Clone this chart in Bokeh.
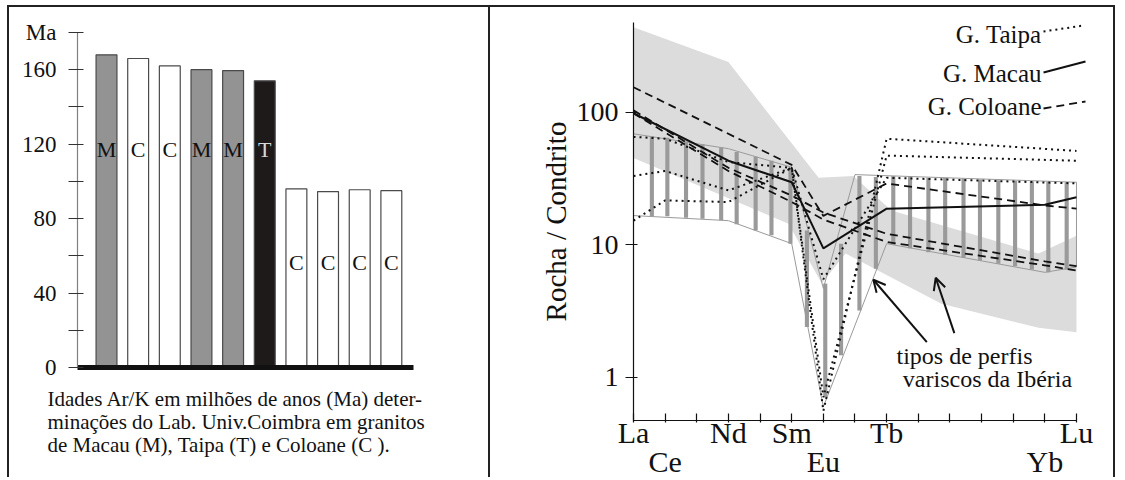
from bokeh.plotting import figure
from bokeh.layouts import row
from bokeh.models import (FixedTicker, Label, Arrow, OpenHead, Range1d, ColumnDataSource,
                          LinearAxis, LogAxis)
from bokeh.core.properties import value
from bokeh.embed import file_html
from bokeh.resources import INLINE

SERIF = "Liberation Serif"

# ---------------- Left panel data: Ar/K ages ----------------
bar_pos = [1, 2, 3, 4, 5, 6, 7, 8, 9, 10]
bar_ages = [168, 166, 162, 160, 159.5, 154, 96, 94.5, 95.5, 95]
bar_groups = ["M", "C", "C", "M", "M", "T", "C", "C", "C", "C"]
bar_label_age = [117, 117, 117, 117, 117, 117, 56.5, 56.5, 56.5, 56.5]
group_fill = {"M": "#939393", "C": "#ffffff", "T": "#1e1a1a"}
group_text = {"M": "#111111", "C": "#111111", "T": "#d8d8d8"}
age_ticks = [0, 20, 40, 60, 80, 100, 120, 140, 160, 180]
age_labels = {0: "0", 40: "40", 80: "80", 120: "120", 160: "160", 180: "Ma"}
caption_lines = ["Idades Ar/K em milhões de anos (Ma) deter-",
                 "minações do Lab. Univ.Coimbra em granitos",
                 "de Macau (M), Taipa (T) e Coloane (C )."]

# ---------------- Right panel data: REE / chondrite ----------------
ree = ["La", "Ce", "Pr", "Nd", "Pm", "Sm", "Eu", "Gd", "Tb", "Dy", "Ho", "Er", "Tm", "Yb", "Lu"]
ree_row1 = {0: "La", 3: "Nd", 5: "Sm", 8: "Tb", 14: "Lu"}
ree_row2 = {1: "Ce", 6: "Eu", 13: "Yb"}

macau_x = [0, 3, 5, 6, 8, 13, 14]
macau_y = [98, 43, 29.6, 9.4, 18.7, 20, 22.8]

coloane_x = [[0, 5, 6, 8, 13, 14],
             [0, 3, 5, 6, 8, 13, 14],
             [0, 3, 5, 6, 8, 13, 14]]
coloane_y = [[154, 40, 16.5, 29, 19.8, 18.7],
             [103, 38, 23.5, 17.5, 12.1, 7.5, 6.9],
             [98, 36, 21, 15.5, 10.5, 7.0, 6.4]]

taipa_x = [[0, 1, 3, 5, 6, 8, 14],
           [0, 1, 3, 5, 6, 8, 14],
           [0, 1, 3, 5, 6, 8, 14]]
taipa_y = [[65, 63, 42, 38, 0.56, 63, 51],
           [33, 36, 25.7, 38, 0.71, 47, 43],
           [15.2, 21.6, 21, 38, 5.5, 32, 29]]

# light grey field
band_x = [0, 3, 5.85, 6.95, 8.15, 12.8, 14, 14, 12.8, 9.73, 6.7, 5.95, 4.9, 0]
band_y = [436, 238, 32, 33, 18.1, 8.6, 11.7, 2.19, 2.37, 3.59, 8.6, 5.1, 14.4, 45]

# hatched field (Iberian variscan profile types)
field_x = [0, 3, 5, 6, 7, 14, 14, 13, 8, 6, 5, 3, 0]
field_y = [68.6, 53, 38.4, 4.7, 33.8, 29.6, 6.8, 6.2, 10.2, 0.6, 10.2, 15.2, 16.6]
hatch_x = [0.58, 1.07, 1.66, 2.18, 2.77, 3.26, 3.86, 4.36, 4.96,
           5.48, 6.06, 6.56, 7.14, 7.66,
           8.21, 8.74, 9.32, 9.85, 10.43, 10.95, 11.53, 12.06, 12.59, 13.11, 13.69]
hatch_top = [66, 64, 60, 57, 54, 50, 46, 43, 38,
             12.8, 5.1, 10.2, 33, 32.4,
             33, 32.6, 32, 31.8, 31.4, 31, 30.6, 30.4, 30, 29.8, 29.6]
hatch_bot = [16.5, 16.4, 16, 15.7, 15.3, 14.3, 12.8, 11.8, 10.2,
             2.4, 0.71, 1.47, 3.2, 6.6,
             10.0, 9.4, 8.8, 8.4, 8.0, 7.6, 7.2, 6.9, 6.5, 6.2, 6.5]

arrows = [dict(x0=9.27, y0=1.845, x1=7.58, y1=5.45),
          dict(x0=10.14, y0=2.16, x1=9.55, y1=5.64)]
note_lines = ["tipos de perfis", "variscos da Ibéria"]
legend_names = ["G. Taipa", "G. Macau", "G. Coloane"]


def bare(p):
    p.title.visible = False
    p.outline_line_color = None
    p.grid.visible = False
    p.background_fill_color = "white"
    p.border_fill_color = "white"


# ======================= LEFT FIGURE =======================
left = figure(width=481, height=470, x_range=Range1d(-2.065, 13.133), y_range=Range1d(-59.1, 193.4),
              output_backend="svg", toolbar_location=None, x_axis_location=None, y_axis_location=None,
              min_border=0)
bare(left)

src = ColumnDataSource(dict(
    x=bar_pos, top=bar_ages, g=bar_groups, ly=bar_label_age,
    fill=[group_fill[g] for g in bar_groups],
    tc=[group_text[g] for g in bar_groups]))
left.vbar(x="x", top="top", bottom=0, width=0.66, fill_color="fill",
          line_color="#4a4a4a", line_width=1.2, source=src)
left.text(x="x", y="ly", text="g", text_color="tc", text_font=value(SERIF),
          text_font_size="22px", text_align="center", text_baseline="middle", source=src)

ya = LinearAxis(fixed_location=0.084, bounds=(0, 180))
ya.ticker = FixedTicker(ticks=age_ticks)
ya.major_label_overrides = {t: age_labels.get(t, "") for t in age_ticks}
ya.axis_line_color = "#808080"
ya.axis_line_width = 1.2
ya.major_tick_line_color = "#333333"
ya.major_tick_line_width = 1.2
ya.major_tick_out = 9
ya.major_tick_in = 6
ya.minor_tick_line_color = None
ya.major_label_standoff = 12
ya.major_label_text_font = SERIF
ya.major_label_text_font_size = "23px"
ya.major_label_text_color = "#111111"
left.add_layout(ya, "left")

xa = LinearAxis(fixed_location=0, bounds=(0.084, 10.70))
xa.ticker = FixedTicker(ticks=[])
xa.axis_line_width = 5
xa.axis_line_color = "#111111"
xa.major_tick_line_color = None
xa.minor_tick_line_color = None
xa.major_label_text_font_size = "0px"
left.add_layout(xa, "below")

for k, line in enumerate(caption_lines):
    left.add_layout(Label(x=38, y=79 - 23 * k, x_units="screen", y_units="screen",
                          text=line, text_font=SERIF, text_font_size="21px",
                          text_color="#111111", text_baseline="alphabetic"))

# ======================= RIGHT FIGURE =======================
right = figure(width=623, height=470, x_range=Range1d(-4.52, 15.17), y_range=Range1d(0.1763, 614),
               y_axis_type="log", output_backend="svg", toolbar_location=None,
               x_axis_location=None, y_axis_location=None, min_border=0)
bare(right)

right.patch(band_x, band_y, fill_color="#dcdcdc", line_color=None)
right.vbar(x=hatch_x, top=hatch_top, bottom=hatch_bot, width=0.13,
           fill_color="#9a9a9a", line_color=None)
right.patch(field_x, field_y, fill_color=None, line_color="#9a9a9a", line_width=1)

right.multi_line(taipa_x, taipa_y, line_color="#111111", line_width=2, line_dash="2 4")
right.multi_line(coloane_x, coloane_y, line_color="#111111", line_width=1.8, line_dash="8 5")
right.line(macau_x, macau_y, line_color="#111111", line_width=2)

for a in arrows:
    right.add_layout(Arrow(end=OpenHead(size=12, line_width=2, line_color="#111111"),
                           x_start=a["x0"], y_start=a["y0"], x_end=a["x1"], y_end=a["y1"],
                           line_width=2, line_color="#111111"))

for k, line in enumerate(note_lines):
    right.add_layout(Label(x=[474, 497][k], y=[122, 99][k], x_units="screen", y_units="screen",
                           text=line, text_font=SERIF, text_font_size="24px",
                           text_color="#111111", text_align="center", text_baseline="alphabetic"))

# legend (text on the left, line sample on the right)
leg_y = [443, 404, 371]
leg_dash = ["2 4", "solid", "8 5"]
leg_seg = [(553, 446, 593, 452), (553, 405, 595, 416), (553, 369, 595, 376)]
for k, name in enumerate(legend_names):
    right.add_layout(Label(x=551, y=leg_y[k], x_units="screen", y_units="screen",
                           text=name, text_font=SERIF, text_font_size="25px",
                           text_color="#111111", text_align="right", text_baseline="alphabetic"))
    x0, y0, x1, y1 = leg_seg[k]
    right.add_layout(Arrow(end=None, x_start=x0, y_start=y0, x_end=x1, y_end=y1,
                           start_units="screen", end_units="screen",
                           line_width=2 if k != 2 else 1.8, line_color="#111111",
                           line_dash=leg_dash[k]))

rx = LinearAxis(fixed_location=0.474, bounds=(0, 14))
rx.ticker = FixedTicker(ticks=list(range(len(ree))))
rx.major_label_overrides = {i: ree_row1.get(i, "") for i in range(len(ree))}
rx.axis_line_color = "#111111"
rx.axis_line_width = 1.2
rx.major_tick_line_color = "#111111"
rx.major_tick_line_width = 1.2
rx.major_tick_in = 7
rx.major_tick_out = 2
rx.minor_tick_line_color = None
rx.major_label_standoff = -7
rx.major_label_text_font = SERIF
rx.major_label_text_font_size = "30px"
rx.major_label_text_color = "#111111"
right.add_layout(rx, "below")

rx2 = LinearAxis(fixed_location=0.474, bounds=(0, 14))
rx2.ticker = FixedTicker(ticks=list(ree_row2.keys()))
rx2.major_label_overrides = dict(ree_row2)
rx2.axis_line_color = None
rx2.major_tick_line_color = None
rx2.major_tick_in = 0
rx2.major_tick_out = 0
rx2.minor_tick_line_color = None
rx2.major_label_standoff = 24
rx2.major_label_text_font = SERIF
rx2.major_label_text_font_size = "30px"
rx2.major_label_text_color = "#111111"
right.add_layout(rx2, "below")

ry = LogAxis(fixed_location=0, bounds=(0.474, 473))
ry.ticker = FixedTicker(ticks=[1, 10, 100])
ry.major_label_overrides = {1: "1", 10: "10", 100: "100"}
ry.axis_line_color = "#111111"
ry.axis_line_width = 1.2
ry.major_tick_line_color = "#111111"
ry.major_tick_line_width = 1.2
ry.major_tick_in = 4
ry.major_tick_out = 8
ry.minor_tick_line_color = None
ry.major_label_standoff = 7
ry.major_label_text_font = SERIF
ry.major_label_text_font_size = "28px"
ry.major_label_text_color = "#111111"
ry.axis_label = "Rocha / Condrito"
ry.axis_label_text_font = SERIF
ry.axis_label_text_font_size = "29px"
ry.axis_label_text_font_style = "normal"
ry.axis_label_text_color = "#111111"
ry.axis_label_standoff = 2
right.add_layout(ry, "left")

left.styles = {"border-right": "2px solid #222222"}
layout = row(left, right, styles={"border-top": "2px solid #222222",
                                  "border-left": "2px solid #222222",
                                  "border-right": "2px solid #222222",
                                  "margin-left": "7px", "margin-top": "5px"})

open("out.html", "w").write(file_html(layout, INLINE))
